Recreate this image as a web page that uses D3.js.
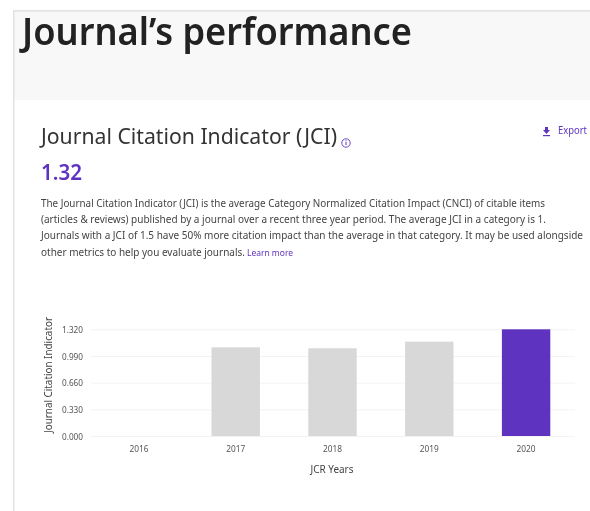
<!DOCTYPE html>
<html><head><meta charset="utf-8">
<script src="https://cdn.jsdelivr.net/npm/d3@7/dist/d3.min.js"></script>
<style>html,body{margin:0;padding:0;background:#fff;overflow:hidden}svg{display:block;filter:blur(0.35px)}text{font-family:"Noto Sans",Lato,sans-serif}</style>
</head><body><svg id="c" width="590" height="511"></svg>
<script>
const years=["2016","2017","2018","2019","2020"];
const jci=[null,1.097,1.085,1.167,1.32];
const tickValues=[0,0.33,0.66,0.99,1.32];
const highlightYear="2020";
const pageTitle="Journal’s performance";
const sectionTitle="Journal Citation Indicator (JCI)";
const metricValue="1.32";
const bodyLines=["The Journal Citation Indicator (JCI) is the average Category Normalized Citation Impact (CNCI) of citable items","(articles & reviews) published by a journal over a recent three year period. The average JCI in a category is 1.","Journals with a JCI of 1.5 have 50% more citation impact than the average in that category. It may be used alongside","other metrics to help you evaluate journals."];
const linkText="Learn more";
const yTitle="Journal Citation Indicator",xTitle="JCR Years";

const svg=d3.select("#c");
const root=svg.append("g");
root.append("rect").attr("x",14).attr("y",10).attr("width",576).attr("height",90).attr("fill","#f8f8f8");
root.append("rect").attr("x",13).attr("y",10).attr("width",577).attr("height",1.5).attr("fill","#e2e2e2");
root.append("rect").attr("x",13).attr("y",10).attr("width",1.5).attr("height",501).attr("fill","#e2e2e2");

function txt(s,x,y,size,fill,opt={}){const t=root.append("text").attr("x",x).attr("y",y).attr("font-size",size).attr("fill",fill).text(s);
 if(opt.weight)t.attr("font-weight",opt.weight);if(opt.anchor)t.attr("text-anchor",opt.anchor);
 if(opt.len)t.attr("textLength",opt.len).attr("lengthAdjust","spacingAndGlyphs");return t;}
txt(pageTitle,22,45,37,"#222222",{weight:600,len:390});
txt(sectionTitle,41,144,22,"#333333",{len:296});
txt(metricValue,41,180,22,"#5e33bf",{weight:600,len:41});
txt("Export",558,134,10,"#5e33bf",{len:29});
const yy=[207,223,239,256];
bodyLines.forEach((l,i)=>txt(l,41,yy[i],10,"#444444",{len:[504,505,542,204][i]}));
txt(linkText,247,256,8,"#5e33bf",{len:46});
// export icon
root.append("path").attr("d","M545 127h3v3h2l-3.5 4-3.5-4h2z").attr("fill","#5e33bf");
root.append("rect").attr("x",543).attr("y",135).attr("width",7).attr("height",1.2).attr("fill","#5e33bf");
// info icon
root.append("circle").attr("cx",346).attr("cy",143).attr("r",4.2).attr("fill","none").attr("stroke","#5e33bf").attr("stroke-width",0.9);
root.append("rect").attr("x",345.5).attr("y",142).attr("width",1).attr("height",3).attr("fill","#5e33bf");
root.append("rect").attr("x",345.5).attr("y",140.3).attr("width",1).attr("height",1).attr("fill","#5e33bf");

const x=d3.scaleBand().domain(years).range([90.5,574.5]).paddingInner(0.5).paddingOuter(0.25);
const y=d3.scaleLinear().domain([0,1.32]).range([436,329.3]);
const gy=root.append("g").attr("transform","translate(91,0)").call(d3.axisLeft(y).tickValues(tickValues).tickFormat(d3.format(".3f")).tickSize(-484).tickPadding(8));
gy.select(".domain").remove();
gy.selectAll("line").attr("stroke","#f3f3f3");
gy.selectAll("text").attr("font-size",9.5).attr("fill","#555").attr("textLength",21).attr("lengthAdjust","spacingAndGlyphs");
root.selectAll("rect.bar").data(years.map((d,i)=>({year:d,v:jci[i]})).filter(d=>d.v!=null)).enter().append("rect").attr("class","bar")
 .attr("x",d=>x(d.year)).attr("y",d=>y(d.v)).attr("width",x.bandwidth()).attr("height",d=>y(0)-y(d.v))
 .attr("fill",d=>d.year===highlightYear?"#5e33bf":"#d8d8d8");
const gx=root.append("g").attr("transform","translate(0,436)").call(d3.axisBottom(x).tickSize(0).tickPadding(9));
gx.select(".domain").remove();
gx.selectAll("text").attr("font-size",9.5).attr("fill","#555").attr("textLength",19).attr("lengthAdjust","spacingAndGlyphs");
txt(xTitle,332,473,10.5,"#444",{anchor:"middle",len:43});
root.append("text").attr("transform","translate(52,375) rotate(-90)").attr("text-anchor","middle").attr("font-size",10.5).attr("fill","#444").attr("textLength",116).attr("lengthAdjust","spacingAndGlyphs").text(yTitle);
</script></body></html>
